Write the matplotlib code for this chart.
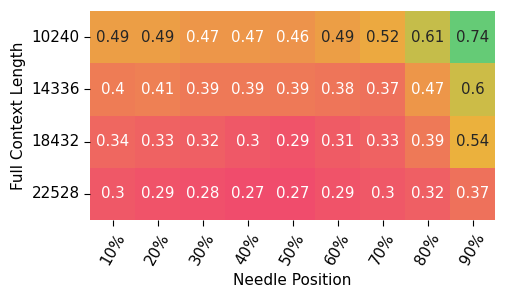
import numpy as np
import pandas as pd
import matplotlib
matplotlib.use("Agg")
import matplotlib.pyplot as plt
import seaborn as sns
from matplotlib.colors import LinearSegmentedColormap

context_lengths = [10240, 14336, 18432, 22528]
needle_positions = ["10%", "20%", "30%", "40%", "50%", "60%", "70%", "80%", "90%"]

row_10240 = [0.49, 0.49, 0.47, 0.47, 0.46, 0.49, 0.52, 0.61, 0.74]
row_14336 = [0.4, 0.41, 0.39, 0.39, 0.39, 0.38, 0.37, 0.47, 0.6]
row_18432 = [0.34, 0.33, 0.32, 0.3, 0.29, 0.31, 0.33, 0.39, 0.54]
row_22528 = [0.3, 0.29, 0.28, 0.27, 0.27, 0.29, 0.3, 0.32, 0.37]

scores = pd.DataFrame([row_10240, row_14336, row_18432, row_22528],
                      index=context_lengths, columns=needle_positions)

cmap = LinearSegmentedColormap.from_list("custom_cmap", ["#F0496E", "#EBB839", "#0CD79F"])

fig = plt.figure(figsize=(5.12, 2.99), dpi=100)
ax = fig.add_axes([90 / 512, 1 - 220 / 299, 405 / 512, 209 / 299])
sns.heatmap(scores, ax=ax, cmap=cmap, vmin=0.26, vmax=0.86, annot=True, fmt="g",
            cbar=False, annot_kws={"fontsize": 10.8})
ax.set_xlabel("Needle Position", fontsize=11)
ax.set_ylabel("Full Context Length", fontsize=11)
plt.xticks(rotation=60, fontsize=11)
plt.yticks(rotation=0, fontsize=11)
ax.tick_params(length=4)

plt.savefig("out.png", dpi=100)
